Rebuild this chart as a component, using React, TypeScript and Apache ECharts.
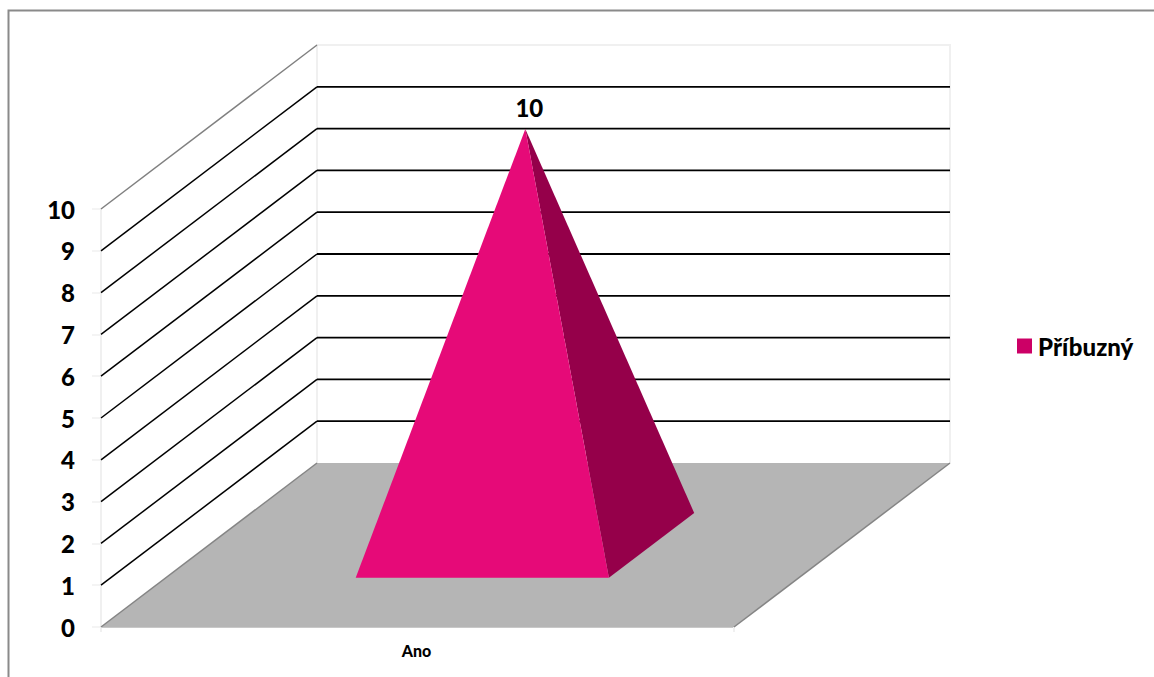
import React, { useEffect, useRef } from "react";
import * as echarts from "echarts";

const categories = ["Ano"];
const seriesName = "Příbuzný";
const seriesValues = [10];
const gridValues = [1, 2, 3, 4, 5, 6, 7, 8, 9, 10];
const yMax = 10;
const FONT = "Lato, Carlito, sans-serif";
const WEIGHT = 900;

// Oblique projection: a point one full depth back shifts by this many pixels.
const DEPTH_X = 216;
const DEPTH_Y = -164;

function frame(api: any) {
  const p = api.coord([0, 0]);
  const band = api.size([1, 0])[0];
  const left = p[0] - band / 2;
  // u runs along the category band (0..1), d runs into the depth (0..1).
  const project = (u: number, d: number, v: number) => {
    const y = api.coord([0, v])[1];
    return [left + u * band + d * DEPTH_X, y + d * DEPTH_Y];
  };
  return { project };
}

const renderFloor = (_: any, api: any) => {
  const { project } = frame(api);
  const a = project(0, 0, 0);
  const b = project(1, 0, 0);
  const c = project(1, 1, 0);
  const d = project(0, 1, 0);
  const top = project(0, 1, yMax);
  const topR = project(1, 1, yMax);
  const light = { stroke: "#f0f0f0", lineWidth: 2, fill: "none" };
  const edge = { stroke: "#858585", lineWidth: 1.5 };
  return {
    type: "group",
    children: [
      { type: "polyline", shape: { points: [d, top, topR, c] }, style: light },
      { type: "polygon", shape: { points: [a, b, c, d] }, style: { fill: "#b5b5b5" } },
      { type: "line", shape: { x1: a[0], y1: a[1], x2: d[0], y2: d[1] }, style: edge },
      { type: "line", shape: { x1: b[0], y1: b[1], x2: c[0], y2: c[1] }, style: edge },
    ],
  };
};

const renderGridLine = (_: any, api: any) => {
  const { project } = frame(api);
  const v = api.value(0);
  const a = project(0, 0, v);
  const b = project(0, 1, v);
  const c = project(1, 1, v);
  const isTop = v === yMax;
  return {
    type: "group",
    children: [
      {
        type: "line",
        shape: { x1: a[0], y1: a[1], x2: b[0], y2: b[1] },
        style: { stroke: isTop ? "#808080" : "#000000", lineWidth: isTop ? 1.5 : 1.5 },
      },
      ...(isTop
        ? []
        : [
            {
              type: "line",
              shape: { x1: b[0], y1: b[1], x2: c[0], y2: c[1] },
              style: { stroke: "#000000", lineWidth: 1.8 },
            },
          ]),
    ],
  };
};

const renderPyramid = (_: any, api: any) => {
  const { project } = frame(api);
  const v = api.value(1);
  const frontLeft = project(0.3, 0.3, 0);
  const frontRight = project(0.7, 0.3, 0);
  const backRight = project(0.7, 0.695, 0);
  const apex = project(0.504, 0.4875, v);
  return {
    type: "group",
    children: [
      {
        type: "polygon",
        shape: { points: [frontRight, backRight, apex] },
        style: { fill: "#95004a" },
      },
      {
        type: "polygon",
        shape: { points: [frontLeft, frontRight, apex] },
        style: { fill: "#e60a78" },
      },
      {
        type: "text",
        style: {
          x: apex[0] + 4,
          y: apex[1] - 22,
          text: String(v),
          align: "center",
          verticalAlign: "middle",
          font: `${WEIGHT} 24px ${FONT}`,
          fill: "#000000",
        },
      },
    ],
  };
};

export default function App() {
  const ref = useRef<HTMLDivElement>(null);

  useEffect(() => {
    const chart = echarts.init(ref.current!, undefined, { renderer: "svg" });
    chart.setOption({
      animation: false,
      backgroundColor: "#ffffff",
      grid: { left: 101, top: 209, width: 633, height: 418 },
      xAxis: {
        type: "category",
        data: categories,
        axisLine: { lineStyle: { color: "#c8c8c8", width: 2 } },
        axisTick: { show: true, length: 5, lineStyle: { color: "#f0f0f0", width: 2 } },
        axisLabel: {
          margin: 15,
          fontFamily: FONT,
          fontWeight: WEIGHT,
          fontSize: 16,
          color: "#000000",
          padding: [0, 2, 0, 0],
        },
      },
      yAxis: {
        type: "value",
        min: 0,
        max: yMax,
        interval: 1,
        splitLine: { show: false },
        axisLine: { show: true, lineStyle: { color: "#f0f0f0", width: 2 } },
        axisTick: { show: true, length: 9, lineStyle: { color: "#f0f0f0", width: 1.5 } },
        axisLabel: {
          margin: 26,
          fontFamily: FONT,
          fontWeight: WEIGHT,
          fontSize: 24,
          color: "#000000",
        },
      },
      legend: {
        left: 1012,
        top: 329,
        itemWidth: 15,
        itemHeight: 15,
        itemGap: 0,
        icon: "rect",
        data: [seriesName],
        selectedMode: false,
        textStyle: {
          fontFamily: FONT,
          fontWeight: WEIGHT,
          fontSize: 24,
          color: "#000000",
          padding: [0, 0, 0, 1],
        },
      },
      graphic: [
        {
          type: "polyline",
          silent: true,
          shape: { points: [[1154, 10.5], [8.5, 10.5], [8.5, 677]] },
          style: { stroke: "#8a8a8a", lineWidth: 2, fill: "none" },
        },
      ],
      series: [
        {
          type: "custom",
          name: "floor",
          coordinateSystem: "cartesian2d",
          z: 1,
          silent: true,
          data: [[0]],
          encode: { x: -1, y: -1 },
          renderItem: renderFloor,
        },
        {
          type: "custom",
          name: "gridLines",
          coordinateSystem: "cartesian2d",
          z: 2,
          silent: true,
          data: gridValues.map((v) => [v]),
          encode: { x: -1, y: -1 },
          renderItem: renderGridLine,
        },
        {
          type: "custom",
          name: seriesName,
          coordinateSystem: "cartesian2d",
          z: 3,
          itemStyle: { color: "#cc0066" },
          data: seriesValues.map((v, i) => [i, v]),
          encode: { x: 0, y: 1 },
          renderItem: renderPyramid,
        },
      ],
    });
    return () => chart.dispose();
  }, []);

  return (
    <div
      ref={ref}
      style={{ position: "fixed", left: 0, top: 0, width: 1154, height: 677 }}
    />
  );
}
